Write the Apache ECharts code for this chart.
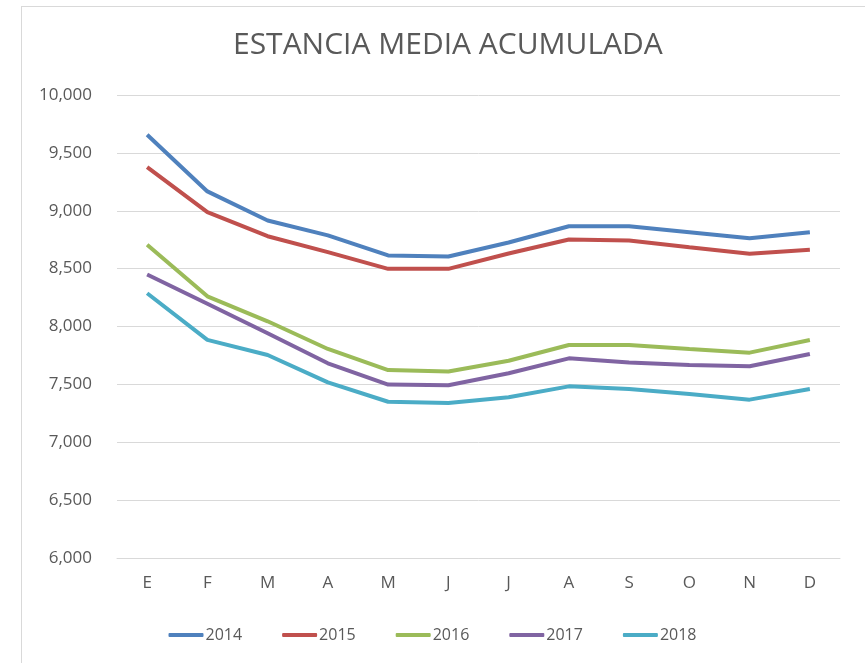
<!DOCTYPE html>
<html>
<head>
<meta charset="utf-8">
<script src="https://cdn.jsdelivr.net/npm/echarts@6/dist/echarts.min.js"></script>
<style>
  html, body { margin: 0; padding: 0; background: #fff; overflow: hidden; }
  #frame { position: absolute; left: 21px; top: 6px; width: 900px; height: 700px; border: 1px solid #d9d9d9; }
  #chart { position: absolute; left: 0; top: 0; width: 865px; height: 663px; }
</style>
</head>
<body>
<div id="frame"></div>
<div id="chart"></div>
<script>
const months = ['E', 'F', 'M', 'A', 'M', 'J', 'J', 'A', 'S', 'O', 'N', 'D']
const years = ['2014', '2015', '2016', '2017', '2018']
const colorSet = ['#4F81BD', '#C0504D', '#9BBB59', '#8064A2', '#4BACC6']

const y2014 = [9.657, 9.167, 8.916, 8.787, 8.614, 8.605, 8.726, 8.866, 8.866, 8.815, 8.763, 8.815]
const y2015 = [9.377, 8.988, 8.780, 8.642, 8.498, 8.498, 8.631, 8.752, 8.743, 8.685, 8.628, 8.663]
const y2016 = [8.706, 8.261, 8.045, 7.806, 7.624, 7.612, 7.704, 7.840, 7.840, 7.806, 7.774, 7.883]
const y2017 = [8.449, 8.196, 7.942, 7.682, 7.498, 7.492, 7.596, 7.725, 7.690, 7.668, 7.656, 7.763]
const y2018 = [8.287, 7.884, 7.754, 7.517, 7.350, 7.339, 7.388, 7.483, 7.460, 7.417, 7.368, 7.460]
const seriesData = [y2014, y2015, y2016, y2017, y2018]

const font = 'Open Sans'
const textColor = '#595959'

const series = years.map((name, i) => ({
  name: name,
  type: 'line',
  data: seriesData[i],
  symbol: 'none',
  lineStyle: { width: 4, color: colorSet[i] },
  itemStyle: { color: colorSet[i] },
}))

var chart = echarts.init(document.getElementById('chart'))
chart.setOption({
  animation: false,
  title: {
    text: 'ESTANCIA MEDIA ACUMULADA',
    left: 228,
    top: 25,
    textStyle: { fontSize: 30, fontWeight: 'normal', color: textColor, fontFamily: font },
  },
  legend: {
    data: years,
    top: 622,
    left: 'center',
    icon: 'roundRect',
    itemWidth: 35,
    itemHeight: 4,
    itemGap: 40,
    textStyle: { fontSize: 16, color: textColor, fontFamily: font, padding: [0, 0, 0, -3] },
  },
  grid: { left: 117, right: 25, top: 95, bottom: 105, containLabel: false },
  xAxis: {
    type: 'category',
    data: months,
    boundaryGap: true,
    axisLine: { lineStyle: { color: '#d9d9d9' } },
    axisTick: { show: false },
    axisLabel: { fontSize: 17, color: textColor, fontFamily: font, margin: 17 },
  },
  yAxis: {
    type: 'value',
    min: 6,
    max: 10,
    interval: 0.5,
    axisLine: { show: false },
    axisTick: { show: false },
    splitLine: { lineStyle: { color: '#d9d9d9', width: 1 } },
    axisLabel: {
      fontSize: 17, color: textColor, fontFamily: font, margin: 25,
      formatter: v => v.toFixed(3).replace('.', ','),
    },
  },
  series: series,
})
</script>
</body>
</html>
